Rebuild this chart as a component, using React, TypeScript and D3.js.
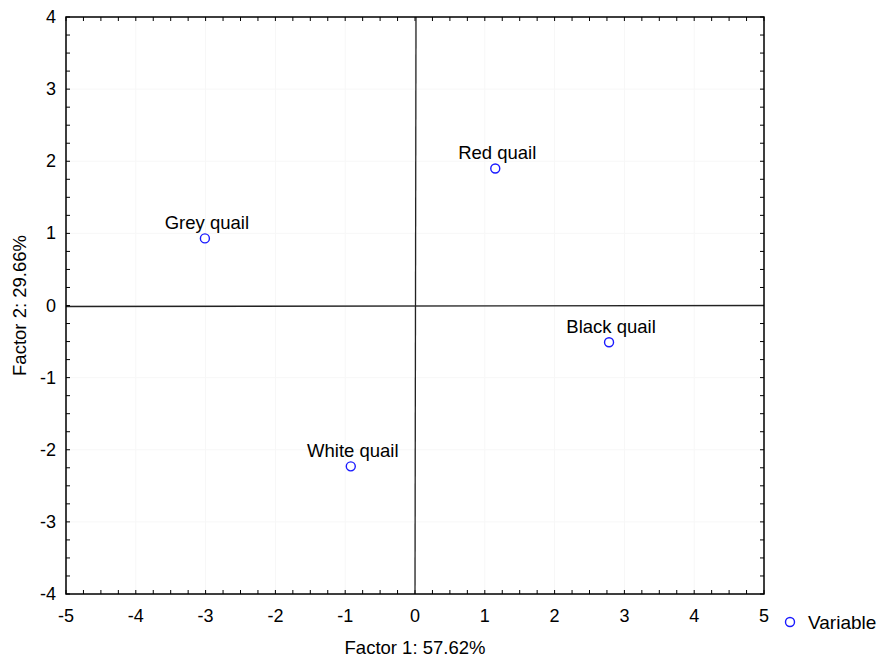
import React from "react";
import * as d3 from "d3";

const names = ["Red quail", "Grey quail", "Black quail", "White quail"];
const factor1 = [1.15, -3.01, 2.78, -0.92];
const factor2 = [1.9, 0.93, -0.51, -2.23];
const xTicks = [-5, -4, -3, -2, -1, 0, 1, 2, 3, 4, 5];
const yTicks = [-4, -3, -2, -1, 0, 1, 2, 3, 4];

const W = 890;
const H = 658;
const margin = { top: 17, right: 126, bottom: 64, left: 66 };
const font = "'Liberation Sans', Arial, sans-serif";

const App = () => {
  const x = d3.scaleLinear().domain([-5, 5]).range([margin.left, W - margin.right]);
  const y = d3.scaleLinear().domain([-4, 4]).range([H - margin.bottom, margin.top]);
  const minorX = d3.range(-5, 5.001, 0.25);
  const minorY = d3.range(-4, 4.001, 0.25);
  const [x0, x1] = x.range();
  const [y0, y1] = y.range();

  return (
    <svg width={W} height={H} style={{ position: "absolute", left: 0, top: 0, background: "#fff" }}>
      {/* faint grid */}
      {xTicks.map((t) => (
        <line key={"gx" + t} x1={x(t)} x2={x(t)} y1={y1} y2={y0} stroke="#f7f7f7" />
      ))}
      {yTicks.map((t) => (
        <line key={"gy" + t} x1={x0} x2={x1} y1={y(t)} y2={y(t)} stroke="#f7f7f7" />
      ))}

      {/* minor ticks, inward */}
      {minorX.map((t, i) => (
        <g key={"tx" + i}>
          <line x1={x(t)} x2={x(t)} y1={y0} y2={y0 - 4} stroke="#000" />
          <line x1={x(t)} x2={x(t)} y1={y1} y2={y1 + 4} stroke="#000" />
        </g>
      ))}
      {minorY.map((t, i) => (
        <g key={"ty" + i}>
          <line x1={x0} x2={x0 + 4} y1={y(t)} y2={y(t)} stroke="#000" />
          <line x1={x1} x2={x1 - 4} y1={y(t)} y2={y(t)} stroke="#000" />
        </g>
      ))}

      {/* zero lines */}
      <line x1={x0} x2={x1} y1={y(0) + 1} y2={y(0)} stroke="#222" strokeWidth={1.3} />
      <line x1={x(0) + 1} x2={x(0)} y1={y1} y2={y0} stroke="#222" strokeWidth={1.3} />

      {/* frame */}
      <rect x={x0} y={y1} width={x1 - x0} height={y0 - y1} fill="none" stroke="#000" strokeWidth={1.5} />

      {/* tick labels */}
      {xTicks.map((t) => (
        <text key={"lx" + t} x={x(t)} y={y0 + 28} textAnchor="middle" fontFamily={font} fontSize={18}>
          {t}
        </text>
      ))}
      {yTicks.map((t) => (
        <text key={"ly" + t} x={x0 - 10} y={y(t) + 6} textAnchor="end" fontFamily={font} fontSize={18}>
          {t}
        </text>
      ))}

      {/* axis titles */}
      <text x={x(0)} y={654} textAnchor="middle" fontFamily={font} fontSize={18.5}>
        Factor 1: 57.62%
      </text>
      <text
        transform={`translate(26,${y(0)}) rotate(-90)`}
        textAnchor="middle"
        fontFamily={font}
        fontSize={18.5}
      >
        Factor 2: 29.66%
      </text>

      {/* points */}
      {names.map((n, i) => (
        <g key={n}>
          <circle cx={x(factor1[i])} cy={y(factor2[i])} r={4.5} fill="#fff" stroke="#1a1aff" strokeWidth={1.4} />
          <text x={x(factor1[i]) + 2} y={y(factor2[i]) - 9} textAnchor="middle" fontFamily={font} fontSize={18.5}>
            {n}
          </text>
        </g>
      ))}

      {/* legend */}
      <circle cx={790} cy={622} r={4.5} fill="#fff" stroke="#1a1aff" strokeWidth={1.4} />
      <text x={808} y={629} fontFamily={font} fontSize={19}>
        Variable
      </text>
    </svg>
  );
};

export default App;
